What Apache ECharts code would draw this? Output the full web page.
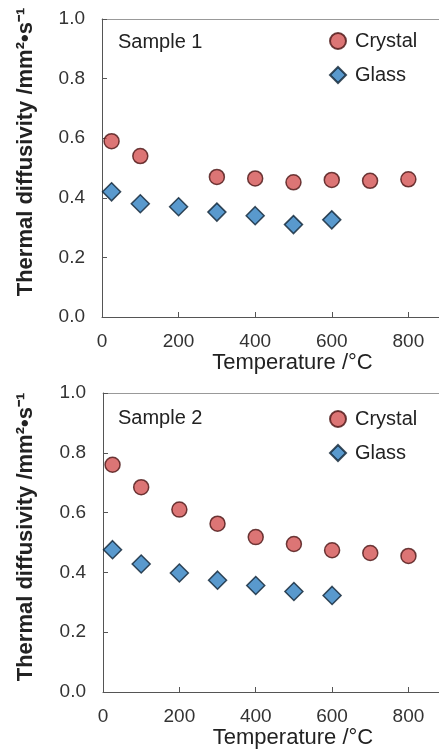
<!DOCTYPE html>
<html>
<head>
<meta charset="utf-8">
<script src="https://cdn.jsdelivr.net/npm/echarts@6/dist/echarts.min.js"></script>
<style>
  html, body { margin: 0; padding: 0; background: #fff; }
  #main { width: 439px; height: 753px; }
</style>
</head>
<body>
<div id="main"></div>
<script>
// temperatures (°C)
var temps = [25, 100, 200, 300, 400, 500, 600, 700, 800];
// Sample 1
var s1Crystal = [0.59, 0.54, null, 0.47, 0.465, 0.452, 0.46, 0.457, 0.462];
var s1Glass = [0.42, 0.38, 0.37, 0.352, 0.34, 0.31, 0.326];
// Sample 2
var s2Crystal = [0.76, 0.685, 0.61, 0.563, 0.518, 0.495, 0.474, 0.465, 0.455];
var s2Glass = [0.476, 0.428, 0.398, 0.374, 0.356, 0.336, 0.323];
var xTicks = [0, 200, 400, 600, 800];

function pairs(vals) {
  var out = [];
  for (var i = 0; i < vals.length; i++) {
    if (vals[i] != null) out.push([temps[i], vals[i]]);
  }
  return out;
}

var font = 'Liberation Sans, Arial, sans-serif';
var crystalStyle = { color: '#d35252', borderColor: '#4a1414', borderWidth: 1.5 };
var glassStyle = { color: '#2f7fc1', borderColor: '#0e2233', borderWidth: 1.5 };

function bottomX(idx) {
  return {
    type: 'value', gridIndex: idx, min: 0, max: 880, interval: 200,
    name: 'Temperature /°C', nameLocation: 'middle', nameGap: 31,
    nameTextStyle: { fontSize: 22, color: '#222', fontFamily: font, padding: [0, 0, 0, 44] },
    axisLine: { show: true, lineStyle: { color: '#555', width: 1 } },
    axisTick: { show: true, inside: true, length: 5, lineStyle: { color: '#555' } },
    axisLabel: { fontSize: 19, color: '#333', margin: 15, fontFamily: font, showMaxLabel: false,
      formatter: function (v) { return xTicks.indexOf(v) >= 0 ? v : ''; } },
    splitLine: { show: false }
  };
}
function topX(idx) {
  return {
    type: 'value', gridIndex: idx, position: 'top', min: 0, max: 880,
    axisLine: { show: true, lineStyle: { color: '#999', width: 1 } },
    axisTick: { show: false }, axisLabel: { show: false }, splitLine: { show: false }
  };
}
function leftY(idx) {
  return {
    type: 'value', gridIndex: idx, min: 0, max: 1, interval: 0.2,
    axisLine: { show: true, lineStyle: { color: '#555', width: 1 } },
    axisTick: { show: true, inside: true, length: 5, lineStyle: { color: '#555' } },
    axisLabel: { fontSize: 19, color: '#333', margin: 17, fontFamily: font,
      formatter: function (v) { return v.toFixed(1); } },
    splitLine: { show: false }
  };
}
function legend(top, names) {
  return {
    orient: 'vertical', left: 329, top: top, itemWidth: 16, itemHeight: 16, itemGap: 14,
    padding: 0, data: names,
    textStyle: { fontSize: 20, color: '#222', fontFamily: font, lineHeight: 20, padding: [0, 0, 0, 4] }
  };
}
var yName = 'Thermal diffusivity /mm²•s⁻¹';

var myChart = echarts.init(document.getElementById('main'));
var option = {
  animation: false,
  title: [
    { text: 'Sample 1', left: 118, top: 32, padding: 0,
      textStyle: { fontSize: 20, fontWeight: 'normal', color: '#222', fontFamily: font } },
    { text: 'Sample 2', left: 118, top: 408, padding: 0,
      textStyle: { fontSize: 20, fontWeight: 'normal', color: '#222', fontFamily: font } }
  ],
  legend: [
    legend(31, ['Crystal', 'Glass']),
    legend(409, ['Crystal 2', 'Glass 2'])
  ],
  grid: [
    { left: 102, top: 19, height: 298, right: 0 },
    { left: 103, top: 393, height: 299, right: 0 }
  ],
  xAxis: [bottomX(0), topX(0), bottomX(1), topX(1)],
  yAxis: [leftY(0), leftY(1)],
  graphic: [
    { type: 'text', x: 26, y: 152, rotation: Math.PI / 2,
      style: { text: yName, font: 'bold 22px ' + font, fill: '#222', align: 'center', verticalAlign: 'middle' } },
    { type: 'text', x: 26, y: 537, rotation: Math.PI / 2,
      style: { text: yName, font: 'bold 22px ' + font, fill: '#222', align: 'center', verticalAlign: 'middle' } }
  ],
  series: [
    { name: 'Crystal', type: 'scatter', xAxisIndex: 0, yAxisIndex: 0, symbol: 'circle', symbolSize: 15,
      itemStyle: crystalStyle, data: pairs(s1Crystal) },
    { name: 'Glass', type: 'scatter', xAxisIndex: 0, yAxisIndex: 0, symbol: 'diamond', symbolSize: 18,
      itemStyle: glassStyle, data: pairs(s1Glass) },
    { name: 'Crystal 2', type: 'scatter', xAxisIndex: 2, yAxisIndex: 1, symbol: 'circle', symbolSize: 15,
      itemStyle: crystalStyle, data: pairs(s2Crystal) },
    { name: 'Glass 2', type: 'scatter', xAxisIndex: 2, yAxisIndex: 1, symbol: 'diamond', symbolSize: 18,
      itemStyle: glassStyle, data: pairs(s2Glass) }
  ]
};
option.legend[1].formatter = function (n) { return n.replace(' 2', ''); };
myChart.setOption(option);
</script>
</body>
</html>
